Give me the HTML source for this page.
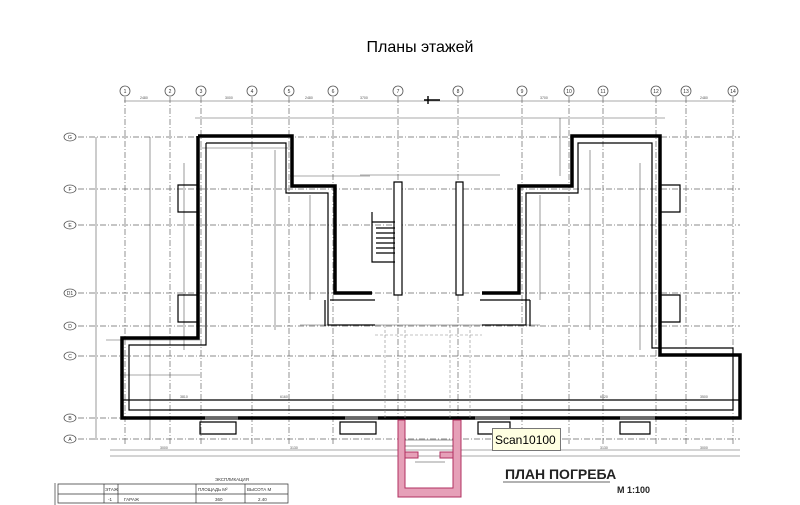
<!DOCTYPE html>
<html><head><meta charset="utf-8"><style>
body{margin:0;background:#fff;width:800px;height:505px;overflow:hidden;font-family:"Liberation Sans",sans-serif}
svg{position:absolute;left:0;top:0}
</style></head><body>
<svg width="800" height="505" viewBox="0 0 800 505" xmlns="http://www.w3.org/2000/svg">
<text x="420" y="52" font-size="16" text-anchor="middle" font-family="Liberation Sans, sans-serif" fill="#000">Планы этажей</text>
<g stroke="#666" stroke-width="0.7" stroke-dasharray="6 2 1 2" fill="none">
<path d="M125 97V445M170 97V445M201 97V445M252 97V445M289 97V445M333 97V445M398 97V445M458 97V445M522 97V445M569 97V445M603 97V445M656 97V445M686 97V445M733 97V445"/>
<path d="M78 137H740M78 189H740M78 225H740M78 293H740M78 326H740M78 356H740M78 418H740M78 439H740"/>
</g>
<g fill="#fff" stroke="#555" stroke-width="0.8">
<circle cx="125" cy="91" r="5"/><circle cx="170" cy="91" r="5"/><circle cx="201" cy="91" r="5"/><circle cx="252" cy="91" r="5"/><circle cx="289" cy="91" r="5"/><circle cx="333" cy="91" r="5"/><circle cx="398" cy="91" r="5"/><circle cx="458" cy="91" r="5"/><circle cx="522" cy="91" r="5"/><circle cx="569" cy="91" r="5"/><circle cx="603" cy="91" r="5"/><circle cx="656" cy="91" r="5"/><circle cx="686" cy="91" r="5"/><circle cx="733" cy="91" r="5"/>
<ellipse cx="70" cy="137" rx="6" ry="4"/><ellipse cx="70" cy="189" rx="6" ry="4"/><ellipse cx="70" cy="225" rx="6" ry="4"/><ellipse cx="70" cy="293" rx="6" ry="4"/><ellipse cx="70" cy="326" rx="6" ry="4"/><ellipse cx="70" cy="356" rx="6" ry="4"/><ellipse cx="70" cy="418" rx="6" ry="4"/><ellipse cx="70" cy="439" rx="6" ry="4"/>
</g>
<g font-size="5" fill="#333" text-anchor="middle" font-family="Liberation Sans, sans-serif">
<text x="125" y="93">1</text><text x="170" y="93">2</text><text x="201" y="93">3</text><text x="252" y="93">4</text><text x="289" y="93">5</text><text x="333" y="93">6</text><text x="398" y="93">7</text><text x="458" y="93">8</text><text x="522" y="93">9</text><text x="569" y="93">10</text><text x="603" y="93">11</text><text x="656" y="93">12</text><text x="686" y="93">13</text><text x="733" y="93">14</text>
<text x="70" y="139">G</text><text x="70" y="191">F</text><text x="70" y="227">E</text><text x="70" y="295">D1</text><text x="70" y="328">D</text><text x="70" y="358">C</text><text x="70" y="420">B</text><text x="70" y="441">A</text>
</g>
<g stroke="#555" stroke-width="0.6" fill="none">
<path d="M124 101H736M195 118H665M200 148H292M290 176H370M96 137V440M150 137V440M560 118V176M106 340H200M120 375H200M110 450H740M110 456H740"/>
<path d="M184 163V350M275 150V330M310 195V300M540 195V300M590 150V330M640 163V350M300 325H540M360 175H500"/>
</g>
<g stroke="#000" stroke-width="1.4"><path d="M428 96V104M424 100H440"/></g>
<g fill="none" stroke="#000" stroke-width="3.5" stroke-linejoin="miter">
<path d="M198 136H292V186H335V293H372"/>
<path d="M198 136V338H122V418H740V355H660V136H572V186H519V293H482"/>
</g>
<g fill="none" stroke="#000" stroke-width="1.2">
<path d="M206 143H286V193H328V325H375M206 143V345H129V410H733V348H652V143H578V193H526V325H482"/>
<path d="M394 182H402V295H394ZM456 182H463V295H456Z" fill="#fff"/>
<path d="M372 212V262H395M372 222H395M376 228H395M376 233H395M376 238H395M376 243H395M376 248H395M376 253H395"/>
<path d="M325 300V326M530 300V326M330 300H375M480 300H530"/>
<path d="M122 400H740"/>
<path d="M178 185H198V212H178ZM178 295H198V322H178ZM660 185H680V212H660ZM660 295H680V322H660Z"/>
<path d="M200 422H236V434H200ZM340 422H376V434H340ZM478 422H510V434H478ZM620 422H650V434H620Z"/>
<path d="M205 418H238M345 418H378M475 418H510M620 418H655" stroke-width="3" stroke="#666"/>
</g>
<g stroke="#888" stroke-width="0.6" stroke-dasharray="3 2" fill="none">
<path d="M385 325V420M470 325V420M405 325V420M450 325V420M375 335H482"/>
</g>
<g fill="#e6a0b8" stroke="#b03060" stroke-width="1">
<path d="M398 420H405V488H453V420H461V497H398Z"/>
<path d="M405 452H418V458H405ZM440 452H453V458H440Z"/>
</g>
<g stroke="#333" stroke-width="0.6" fill="none"><path d="M405 440H453M405 446H453M415 462H445"/></g>
<g font-size="3.5" fill="#555" font-family="Liberation Sans, sans-serif">
<text x="140" y="99">2480</text><text x="225" y="99">3000</text><text x="305" y="99">2480</text><text x="360" y="99">3700</text><text x="540" y="99">3700</text><text x="700" y="99">2480</text>
<text x="180" y="398">3810</text><text x="280" y="398">6160</text><text x="600" y="398">6120</text><text x="700" y="398">3500</text>
<text x="160" y="449">3000</text><text x="290" y="449">3130</text><text x="600" y="449">3130</text><text x="700" y="449">3000</text>
</g>
<g stroke="#333" stroke-width="0.7" fill="none">
<path d="M55 483V505M58 484H288V503H58ZM58 494H288M104 484V503M118 484V503M196 484V503M245 484V503"/>
</g>
<g font-size="4.5" fill="#333" font-family="Liberation Sans, sans-serif">
<text x="215" y="481">ЭКСПЛИКАЦИЯ</text><text x="105" y="491">ЭТАЖ</text><text x="198" y="491">ПЛОЩАДЬ М²</text><text x="247" y="491">ВЫСОТА М</text>
<text x="108" y="501">-1</text><text x="124" y="501">ГАРАЖ</text><text x="215" y="501">360</text><text x="258" y="501">2.40</text>
</g>
<text x="505" y="479" font-size="14" font-weight="bold" fill="#222" font-family="Liberation Sans, sans-serif">ПЛАН ПОГРЕБА</text>
<line x1="503" y1="482" x2="610" y2="482" stroke="#333" stroke-width="0.8"/>
<text x="617" y="493" font-size="9" font-weight="bold" fill="#222" font-family="Liberation Sans, sans-serif">М 1:100</text>
<rect x="492.5" y="428.5" width="68" height="22" fill="#ffffe1" stroke="#777"/>
<text x="495" y="444" font-size="12" fill="#000" font-family="Liberation Sans, sans-serif">Scan10100</text>
</svg>
</body></html>
